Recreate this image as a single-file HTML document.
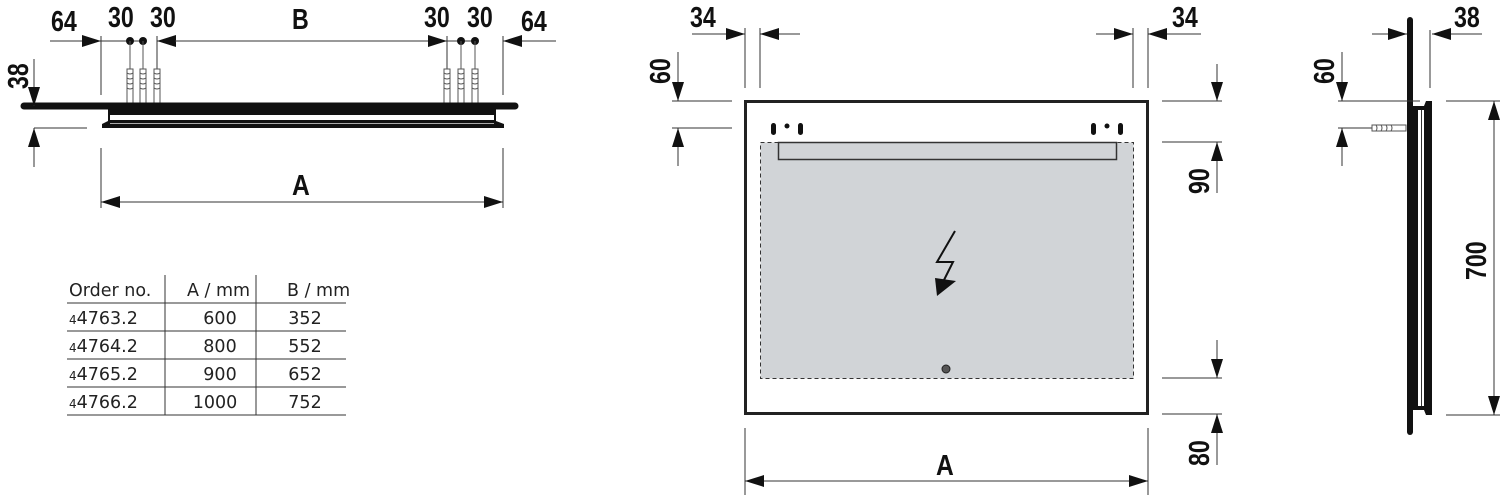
<!DOCTYPE html>
<html><head><meta charset="utf-8"><style>
html,body{margin:0;padding:0;background:#fff;}
svg{display:block;}
.d{font-family:"Liberation Sans",sans-serif;font-weight:bold;font-size:29px;fill:#111;}
.t{font-family:"DejaVu Sans","Liberation Sans",sans-serif;font-size:17.5px;fill:#222;}
.l{stroke:#333;stroke-width:1;fill:none;}
</style></head><body>
<svg width="1500" height="495" viewBox="0 0 1500 495" xmlns="http://www.w3.org/2000/svg">
<defs>
<marker id="a" markerUnits="userSpaceOnUse" markerWidth="22" markerHeight="14" refX="19" refY="6" orient="auto"><path d="M0,0 L19,6 L0,12 z" fill="#111"/></marker>
<g id="dw"><rect x="-3" y="0" width="6" height="34" fill="#fff" stroke="#555"/><path d="M-3,4 q3,2 6,0 M-3,9 q3,2 6,0 M-3,14 q3,2 6,0 M-3,19 q3,2 6,0" stroke="#555" fill="none"/></g>
</defs>

<!-- ===== TOP VIEW ===== -->
<line class="l" x1="50" y1="41" x2="101" y2="41" marker-end="url(#a)"/>
<line class="l" x1="101" y1="41" x2="143" y2="41"/>
<line class="l" x1="178" y1="41" x2="157" y2="41" marker-end="url(#a)"/>
<line class="l" x1="175" y1="41" x2="447" y2="41" marker-end="url(#a)"/>
<line class="l" x1="447" y1="41" x2="475" y2="41"/>
<line class="l" x1="556" y1="41" x2="503" y2="41" marker-end="url(#a)"/>
<circle cx="130" cy="41" r="4" fill="#111"/><circle cx="143" cy="41" r="4" fill="#111"/>
<circle cx="461" cy="41" r="4" fill="#111"/><circle cx="475" cy="41" r="4" fill="#111"/>
<line class="l" x1="101" y1="36" x2="101" y2="95"/>
<line class="l" x1="503" y1="36" x2="503" y2="95"/>
<line class="l" x1="157" y1="36" x2="157" y2="69"/>
<line class="l" x1="447" y1="36" x2="447" y2="69"/>
<g stroke="#555" stroke-width="1">
<line x1="130" y1="41" x2="130" y2="69"/><line x1="143" y1="41" x2="143" y2="69"/>
<line x1="461" y1="41" x2="461" y2="69"/><line x1="475" y1="41" x2="475" y2="69"/>
</g>
<use href="#dw" x="130" y="69"/><use href="#dw" x="143" y="69"/><use href="#dw" x="157" y="69"/>
<use href="#dw" x="447" y="69"/><use href="#dw" x="461" y="69"/><use href="#dw" x="475" y="69"/>
<text class="d" transform="translate(51,31) scale(0.8,1)">64</text>
<text class="d" transform="translate(108,27) scale(0.8,1)">30</text>
<text class="d" transform="translate(150,27) scale(0.8,1)">30</text>
<text class="d" transform="translate(292,29) scale(0.8,1)">B</text>
<text class="d" transform="translate(424,27) scale(0.8,1)">30</text>
<text class="d" transform="translate(467,27) scale(0.8,1)">30</text>
<text class="d" transform="translate(521,31) scale(0.8,1)">64</text>
<!-- board -->
<line x1="24" y1="106" x2="515" y2="106" stroke="#111" stroke-width="7" stroke-linecap="round"/>
<path d="M108,108 L496,108 L496,121 L504,124 L504,128 L102,128 L102,124 L108,121 z" fill="#111"/>
<rect x="110" y="115" width="384" height="5" fill="#fff"/>
<line x1="110" y1="123.5" x2="494" y2="123.5" stroke="#aaa" stroke-width="1"/>
<!-- 38 -->
<line class="l" x1="34" y1="59" x2="34" y2="106" marker-end="url(#a)"/>
<line class="l" x1="34" y1="167" x2="34" y2="128" marker-end="url(#a)"/>
<line class="l" x1="34" y1="128" x2="87" y2="128"/>
<text class="d" transform="translate(28,89) rotate(-90) scale(0.8,1)">38</text>
<!-- A -->
<line class="l" x1="101" y1="148" x2="101" y2="208"/>
<line class="l" x1="503" y1="148" x2="503" y2="208"/>
<line class="l" x1="302" y1="202" x2="101" y2="202" marker-end="url(#a)"/>
<line class="l" x1="302" y1="202" x2="503" y2="202" marker-end="url(#a)"/>
<text class="d" transform="translate(292,195) scale(0.85,1)">A</text>

<!-- ===== TABLE ===== -->
<g stroke="#333" stroke-width="1">
<line x1="67" y1="303" x2="346" y2="303"/><line x1="67" y1="331" x2="346" y2="331"/>
<line x1="67" y1="359" x2="346" y2="359"/><line x1="67" y1="387" x2="346" y2="387"/>
<line x1="67" y1="415" x2="346" y2="415"/>
<line x1="165" y1="275" x2="165" y2="415"/><line x1="256" y1="275" x2="256" y2="415"/>
</g>
<text class="t" x="69" y="296">Order no.</text>
<text class="t" x="187" y="296">A / mm</text>
<text class="t" x="287" y="296">B / mm</text>
<g class="t">
<text x="69" y="324"><tspan font-size="12">4</tspan>4763.2</text>
<text x="69" y="352"><tspan font-size="12">4</tspan>4764.2</text>
<text x="69" y="380"><tspan font-size="12">4</tspan>4765.2</text>
<text x="69" y="408"><tspan font-size="12">4</tspan>4766.2</text>
<text x="220" y="324" text-anchor="middle">600</text>
<text x="220" y="352" text-anchor="middle">800</text>
<text x="220" y="380" text-anchor="middle">900</text>
<text x="215" y="408" text-anchor="middle">1000</text>
<text x="305" y="324" text-anchor="middle">352</text>
<text x="305" y="352" text-anchor="middle">552</text>
<text x="305" y="380" text-anchor="middle">652</text>
<text x="305" y="408" text-anchor="middle">752</text>
</g>

<!-- ===== FRONT VIEW ===== -->
<rect x="745.5" y="101.5" width="402" height="312" fill="#fff" stroke="#222" stroke-width="3"/>
<rect x="760.5" y="142.5" width="373" height="236" fill="#d1d4d7" stroke="#333" stroke-width="1" stroke-dasharray="4,3"/>
<rect x="778.5" y="142.5" width="338" height="17" fill="#d1d4d7" stroke="#333" stroke-width="1.5"/>
<g fill="#111">
<rect x="771" y="123" width="5" height="12" rx="2.5"/><circle cx="787" cy="126" r="2.5"/><rect x="798" y="123" width="5" height="12" rx="2.5"/>
<rect x="1091" y="123" width="5" height="12" rx="2.5"/><circle cx="1107" cy="126" r="2.5"/><rect x="1118" y="123" width="5" height="12" rx="2.5"/>
</g>
<polyline points="955,231 937,262 953,262 944,280" fill="none" stroke="#111" stroke-width="2"/>
<polygon points="935,278 956,281 937,296" fill="#111"/>
<circle cx="946" cy="369" r="4" fill="#555" stroke="#222" stroke-width="1"/>
<!-- 34 dims -->
<line class="l" x1="745" y1="28" x2="745" y2="88"/><line class="l" x1="760" y1="28" x2="760" y2="88"/>
<line class="l" x1="692" y1="34" x2="745" y2="34" marker-end="url(#a)"/>
<line class="l" x1="800" y1="34" x2="760" y2="34" marker-end="url(#a)"/>
<text class="d" transform="translate(690,27) scale(0.8,1)">34</text>
<line class="l" x1="1133" y1="28" x2="1133" y2="88"/><line class="l" x1="1148" y1="28" x2="1148" y2="88"/>
<line class="l" x1="1096" y1="34" x2="1133" y2="34" marker-end="url(#a)"/>
<line class="l" x1="1201" y1="34" x2="1148" y2="34" marker-end="url(#a)"/>
<text class="d" transform="translate(1172,27) scale(0.8,1)">34</text>
<!-- 60 -->
<line class="l" x1="678" y1="52" x2="678" y2="101" marker-end="url(#a)"/>
<line class="l" x1="678" y1="166" x2="678" y2="128" marker-end="url(#a)"/>
<line class="l" x1="672" y1="101" x2="732" y2="101"/><line class="l" x1="672" y1="128" x2="732" y2="128"/>
<text class="d" transform="translate(670,84) rotate(-90) scale(0.8,1)">60</text>
<!-- 90 -->
<line class="l" x1="1217" y1="64" x2="1217" y2="101" marker-end="url(#a)"/>
<line class="l" x1="1217" y1="193" x2="1217" y2="142" marker-end="url(#a)"/>
<line class="l" x1="1162" y1="101" x2="1222" y2="101"/><line class="l" x1="1162" y1="142" x2="1222" y2="142"/>
<text class="d" transform="translate(1209,194) rotate(-90) scale(0.8,1)">90</text>
<!-- 80 -->
<line class="l" x1="1217" y1="340" x2="1217" y2="378" marker-end="url(#a)"/>
<line class="l" x1="1217" y1="465" x2="1217" y2="414" marker-end="url(#a)"/>
<line class="l" x1="1162" y1="378" x2="1222" y2="378"/><line class="l" x1="1162" y1="414" x2="1222" y2="414"/>
<text class="d" transform="translate(1209,466) rotate(-90) scale(0.8,1)">80</text>
<!-- A -->
<line class="l" x1="745" y1="428" x2="745" y2="495"/><line class="l" x1="1148" y1="428" x2="1148" y2="495"/>
<line class="l" x1="946" y1="481" x2="745" y2="481" marker-end="url(#a)"/>
<line class="l" x1="946" y1="481" x2="1148" y2="481" marker-end="url(#a)"/>
<text class="d" transform="translate(936,475) scale(0.85,1)">A</text>

<!-- ===== SIDE VIEW ===== -->
<line x1="1410" y1="20" x2="1410" y2="432" stroke="#111" stroke-width="6" stroke-linecap="round"/>
<path d="M1413,106 L1424,106 L1426,101 L1432,101 L1432,415 L1426,415 L1424,410 L1413,410 z" fill="#111"/>
<rect x="1418" y="110" width="6" height="296" fill="#fff"/>
<line x1="1421.5" y1="110" x2="1421.5" y2="406" stroke="#333" stroke-width="1"/>
<line class="l" x1="1372" y1="34" x2="1407" y2="34" marker-end="url(#a)"/>
<line class="l" x1="1430" y1="30" x2="1430" y2="88"/>
<line class="l" x1="1482" y1="34" x2="1432" y2="34" marker-end="url(#a)"/>
<text class="d" transform="translate(1454,27) scale(0.8,1)">38</text>
<line class="l" x1="1342" y1="52" x2="1342" y2="101" marker-end="url(#a)"/>
<line class="l" x1="1342" y1="166" x2="1342" y2="128" marker-end="url(#a)"/>
<line class="l" x1="1338" y1="101" x2="1420" y2="101"/>
<line class="l" x1="1338" y1="128" x2="1372" y2="128"/>
<rect x="1372" y="125" width="34" height="6" fill="#fff" stroke="#555" stroke-width="1"/>
<path d="M1376,125 q2,3 0,6 M1381,125 q2,3 0,6 M1386,125 q2,3 0,6 M1391,125 q2,3 0,6" stroke="#555" fill="none"/>
<text class="d" transform="translate(1334,84) rotate(-90) scale(0.8,1)">60</text>
<line class="l" x1="1446" y1="101" x2="1500" y2="101"/><line class="l" x1="1446" y1="415" x2="1500" y2="415"/>
<line class="l" x1="1494" y1="258" x2="1494" y2="101" marker-end="url(#a)"/>
<line class="l" x1="1494" y1="258" x2="1494" y2="415" marker-end="url(#a)"/>
<text class="d" transform="translate(1486,280) rotate(-90) scale(0.8,1)">700</text>
</svg>
</body></html>
